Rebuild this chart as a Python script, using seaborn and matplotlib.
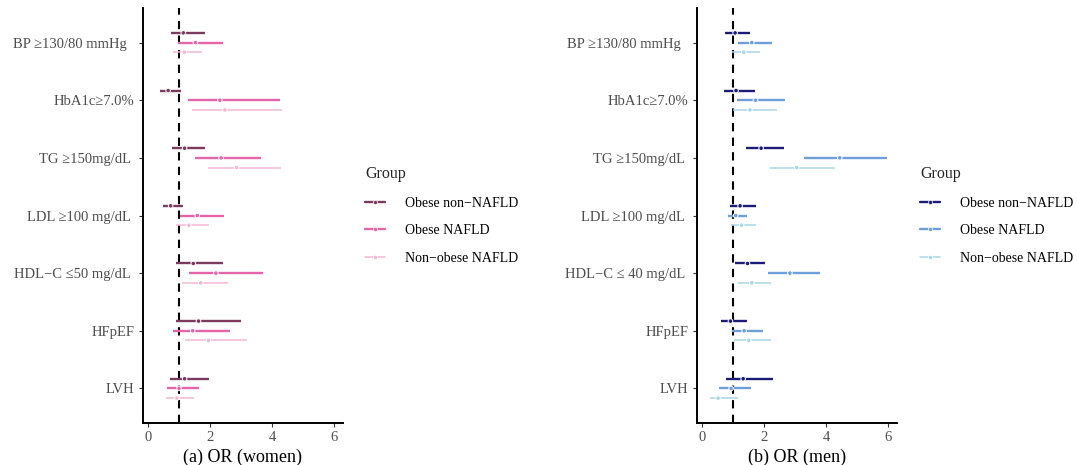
import numpy as np
import pandas as pd
import matplotlib
matplotlib.use("Agg")
import matplotlib.pyplot as plt
from matplotlib.lines import Line2D
import seaborn as sns

# ---------------- data ----------------
groups = ["Obese non\u2212NAFLD", "Obese NAFLD", "Non\u2212obese NAFLD"]

women_labels = ["BP \u2265130/80 mmHg  ", "HbA1c\u22657.0%", "TG \u2265150mg/dL ",
                "LDL \u2265100 mg/dL ", "HDL\u2212C \u226450 mg/dL ", "HFpEF", "LVH"]
men_labels = ["BP \u2265130/80 mmHg  ", "HbA1c\u22657.0%", "TG \u2265150mg/dL ",
              "LDL \u2265100 mg/dL ", "HDL\u2212C \u2264 40 mg/dL ", "HFpEF", "LVH"]

# women: OR, lower, upper per group (order of rows as women_labels)
w_nonnafld_or = [1.13, 0.64, 1.17, 0.72, 1.45, 1.62, 1.17]
w_nonnafld_lo = [0.72, 0.38, 0.75, 0.47, 0.89, 0.89, 0.71]
w_nonnafld_hi = [1.83, 1.04, 1.83, 1.11, 2.40, 2.98, 1.96]

w_nafld_or = [1.52, 2.31, 2.35, 1.58, 2.18, 1.43, 0.99]
w_nafld_lo = [0.97, 1.29, 1.51, 1.02, 1.30, 0.81, 0.59]
w_nafld_hi = [2.42, 4.25, 3.64, 2.45, 3.69, 2.64, 1.65]

w_nonobese_or = [1.16, 2.47, 2.85, 1.31, 1.69, 1.94, 0.92]
w_nonobese_lo = [0.79, 1.42, 1.93, 0.89, 1.10, 1.18, 0.57]
w_nonobese_hi = [1.74, 4.30, 4.27, 1.95, 2.57, 3.18, 1.47]

# men
m_nonnafld_or = [1.06, 1.09, 1.90, 1.22, 1.46, 0.91, 1.32]
m_nonnafld_lo = [0.73, 0.70, 1.40, 0.89, 1.07, 0.59, 0.78]
m_nonnafld_hi = [1.54, 1.69, 2.64, 1.72, 2.02, 1.43, 2.27]

m_nafld_or = [1.60, 1.72, 4.44, 1.08, 2.83, 1.35, 0.93]
m_nafld_lo = [1.14, 1.12, 3.30, 0.82, 2.13, 0.95, 0.54]
m_nafld_hi = [2.26, 2.66, 5.97, 1.45, 3.81, 1.97, 1.58]

m_nonobese_or = [1.34, 1.54, 3.05, 1.27, 1.60, 1.50, 0.51]
m_nonobese_lo = [0.97, 0.99, 2.18, 0.93, 1.16, 1.04, 0.24]
m_nonobese_hi = [1.88, 2.40, 4.30, 1.75, 2.21, 2.23, 1.14]

x_ticks = [0, 2, 4, 6]

women_colors = ["#7d3a5f", "#e466a8", "#f5b8d3"]
men_colors = ["#1c1c78", "#6f9fda", "#a9d6e8"]
line_widths = [1.7, 1.7, 1.1]

# ---------------- styling ----------------
sns.set_theme(style="white")
plt.rcParams["font.family"] = ["Liberation Serif", "DejaVu Serif"]
plt.rcParams["axes.unicode_minus"] = True


def build_df(labels, ors, los, his):
    rows = []
    for gi, g in enumerate(groups):
        for ci, lab in enumerate(labels):
            rows.append({"label": lab, "cat": ci + 1, "gi": gi, "group": g,
                         "OR": ors[gi][ci], "lo": los[gi][ci], "hi": his[gi][ci]})
    df = pd.DataFrame(rows)
    df["y"] = df["cat"] + (df["gi"] - 1) * 0.168
    return df


df_w = build_df(women_labels,
                [w_nonnafld_or, w_nafld_or, w_nonobese_or],
                [w_nonnafld_lo, w_nafld_lo, w_nonobese_lo],
                [w_nonnafld_hi, w_nafld_hi, w_nonobese_hi])
df_m = build_df(men_labels,
                [m_nonnafld_or, m_nafld_or, m_nonobese_or],
                [m_nonnafld_lo, m_nafld_lo, m_nonobese_lo],
                [m_nonnafld_hi, m_nafld_hi, m_nonobese_hi])

fig = plt.figure(figsize=(10.77, 4.65), dpi=100)
ax_w = fig.add_axes([0.1325, 0.0903, 0.186, 0.8925])
ax_m = fig.add_axes([0.6469, 0.0903, 0.1857, 0.8925])


def draw(ax, df, labels, colors, xlabel):
    ax.axvline(1, color="black", linestyle=(0, (4, 3)), linewidth=1.5, zorder=1)
    for gi, g in enumerate(groups):
        sub = df[df["gi"] == gi]
        ax.hlines(sub["y"], sub["lo"], sub["hi"], color=colors[gi],
                  linewidth=line_widths[gi], zorder=2)
    sns.scatterplot(data=df, x="OR", y="y", hue="group", hue_order=groups,
                    palette=colors, s=11, edgecolor="white", linewidth=0.7,
                    legend=False, ax=ax, zorder=3)
    ax.set_xlim(-0.18, 6.28)
    ax.set_ylim(7.6, 0.4)
    ax.set_yticks(range(1, len(labels) + 1))
    ax.set_yticklabels(labels)
    ax.set_xticks(x_ticks)
    ax.set_xticklabels([str(t) for t in x_ticks])
    ax.set_ylabel("")
    ax.set_xlabel(xlabel, fontsize=13, color="black", labelpad=3)
    for s in ["top", "right"]:
        ax.spines[s].set_visible(False)
    for s in ["left", "bottom"]:
        ax.spines[s].set_color("black")
        ax.spines[s].set_linewidth(1.4)
    ax.tick_params(axis="both", which="both", length=3, width=0.8,
                   color="#333333", labelsize=10.5, labelcolor="#4d4d4d",
                   left=True, bottom=True, pad=3)
    ax.grid(False)


draw(ax_w, df_w, women_labels, women_colors, "(a) OR (women)")
draw(ax_m, df_m, men_labels, men_colors, "(b) OR (men)")


def add_legend(colors, x_left):
    handles = [Line2D([0], [0], color=colors[i], linewidth=line_widths[i],
                      marker="o", markersize=3.0, markeredgecolor="white",
                      markeredgewidth=0.5)
               for i in range(3)]
    leg = fig.legend(handles, groups, title="Group", loc="upper left",
                     bbox_to_anchor=(x_left / 1077, 1 - 166 / 465),
                     frameon=False, fontsize=10, title_fontsize=11.5,
                     handlelength=1.45, handletextpad=1.45, labelspacing=1.05,
                     borderpad=0, borderaxespad=0, alignment="left")
    for t in leg.get_texts():
        t.set_color("black")
    return leg


add_legend(women_colors, 365)
add_legend(men_colors, 920)

fig.savefig("out.png", dpi=100, facecolor="white")
